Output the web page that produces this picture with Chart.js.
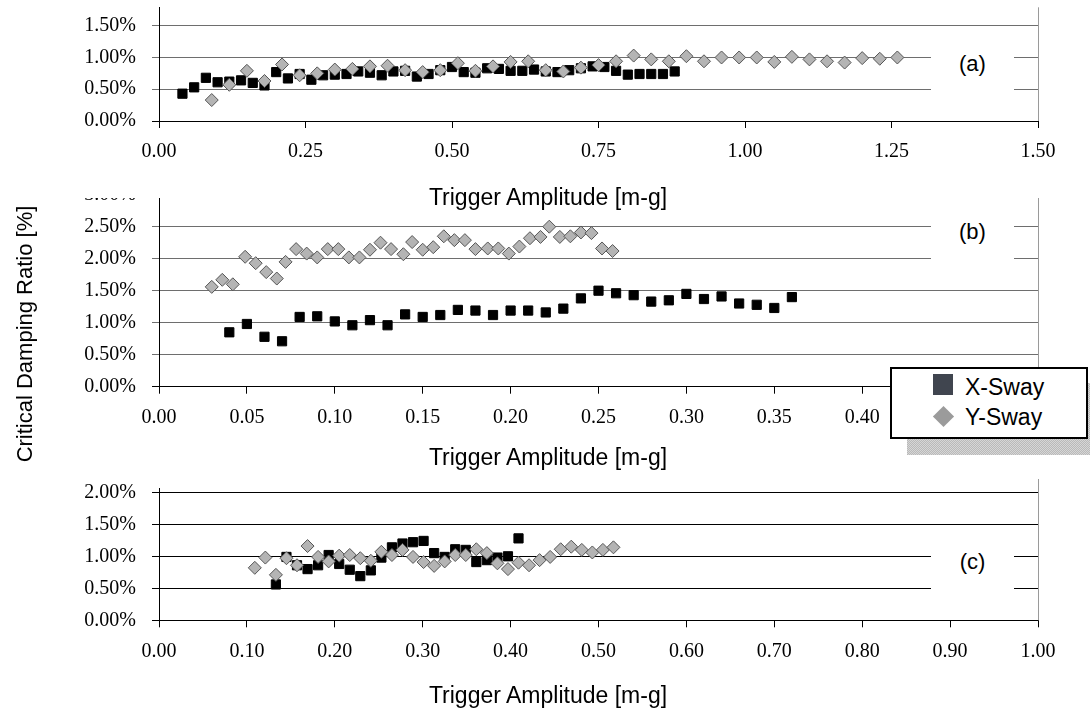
<!DOCTYPE html>
<html>
<head>
<meta charset="utf-8">
<script src="https://cdn.jsdelivr.net/npm/chart.js@4"></script>
<style>
  html, body { margin: 0; padding: 0; background: #fff; }
  #page { position: relative; width: 1090px; height: 709px; overflow: hidden; background: #fff;
          font-family: Arial, "Liberation Sans", sans-serif; color: #000; }
  .wrap { position: absolute; left: 0; width: 1090px; overflow: hidden; }
  #wrapA { top: 0; height: 198px; z-index: 3; background: #fff; }
  #wrapB { top: 180px; height: 290px; z-index: 1; }
  #wrapC { top: 470px; height: 239px; z-index: 1; }
  .xtitle { position: absolute; left: 348px; width: 400px; height: 28px; line-height: 28px;
            text-align: center; font-size: 23px; z-index: 5; white-space: nowrap; }
  .ytitle { position: absolute; left: -125px; top: 320px; width: 300px; height: 28px; line-height: 28px;
            text-align: center; font-size: 22px; transform: rotate(-90deg); z-index: 5; white-space: nowrap; }
  .tag { position: absolute; left: 931px; width: 83px; height: 60px; line-height: 60px;
         text-align: center; font-size: 22px; background: #fff; z-index: 5; }
  #shadow { position: absolute; left: 907px; top: 383px; width: 198px; height: 72px; z-index: 6;
            background-color: #c8c8c8;
            background-image: repeating-conic-gradient(#b9b9b9 0 25%, #d6d6d6 0 50%);
            background-size: 2px 2px; }
  #legend { position: absolute; left: 890px; top: 367px; width: 198px; height: 72px; z-index: 7;
            box-sizing: border-box; border: 2px solid #000; background: #fff; }
  .lg { position: absolute; z-index: 8; }
  .lgtext { position: absolute; left: 965px; height: 30px; line-height: 30px; font-size: 23px; z-index: 8; }
</style>
</head>
<body>
<div id="page">
  <div class="wrap" id="wrapA"><canvas id="chartA" width="1090" height="200"></canvas></div>
  <div class="wrap" id="wrapB"><canvas id="chartB" width="1090" height="290"></canvas></div>
  <div class="wrap" id="wrapC"><canvas id="chartC" width="1090" height="239"></canvas></div>

  <div class="xtitle" style="top:183px">Trigger Amplitude [m-g]</div>
  <div class="xtitle" style="top:443px">Trigger Amplitude [m-g]</div>
  <div class="xtitle" style="top:681px">Trigger Amplitude [m-g]</div>
  <div class="ytitle">Critical Damping Ratio [%]</div>

  <div class="tag" style="top:34px">(a)</div>
  <div class="tag" style="top:202px">(b)</div>
  <div class="tag" style="top:532px">(c)</div>

  <div id="shadow"></div>
  <div id="legend"></div>
  <div class="lg" style="left:933px; top:374px; width:20px; height:21px; background:#40454f;"></div>
  <div class="lgtext" style="top:372px">X-Sway</div>
  <div class="lg" style="left:936px; top:409px; width:15px; height:15px; background:#9b9b9b; transform:rotate(45deg);"></div>
  <div class="lgtext" style="top:402px">Y-Sway</div>
</div>

<script>
// panel (a)
var ampA_X = [0.04, 0.06, 0.08, 0.10, 0.12, 0.14, 0.16, 0.18, 0.20, 0.22, 0.24, 0.26, 0.28, 0.30, 0.32,
              0.34, 0.36, 0.38, 0.40, 0.42, 0.44, 0.46, 0.48, 0.50, 0.52, 0.54, 0.56, 0.58, 0.60, 0.62,
              0.64, 0.66, 0.68, 0.70, 0.72, 0.74, 0.76, 0.78, 0.80, 0.82, 0.84, 0.86, 0.88];
var dampA_X = [0.43, 0.53, 0.68, 0.61, 0.62, 0.64, 0.60, 0.56, 0.77, 0.67, 0.74, 0.65, 0.72, 0.73, 0.74,
               0.78, 0.76, 0.72, 0.78, 0.79, 0.70, 0.74, 0.80, 0.85, 0.77, 0.76, 0.83, 0.82, 0.79, 0.79,
               0.81, 0.78, 0.77, 0.80, 0.83, 0.86, 0.85, 0.79, 0.73, 0.74, 0.74, 0.74, 0.78];
var ampA_Y = [0.09, 0.12, 0.15, 0.18, 0.21, 0.24, 0.27, 0.30, 0.33, 0.36, 0.39, 0.42, 0.45, 0.48, 0.51,
              0.54, 0.57, 0.60, 0.63, 0.66, 0.69, 0.72, 0.75, 0.78, 0.81, 0.84, 0.87, 0.90, 0.93, 0.96,
              0.99, 1.02, 1.05, 1.08, 1.11, 1.14, 1.17, 1.20, 1.23, 1.26];
var dampA_Y = [0.33, 0.57, 0.79, 0.63, 0.89, 0.72, 0.75, 0.81, 0.82, 0.86, 0.87, 0.80, 0.77, 0.80, 0.91,
               0.79, 0.86, 0.93, 0.94, 0.80, 0.78, 0.84, 0.88, 0.94, 1.03, 0.97, 0.94, 1.02, 0.94, 1.00,
               1.00, 1.00, 0.93, 1.01, 0.97, 0.94, 0.92, 0.99, 0.98, 1.00];

// panel (b)
var ampB_X = [0.04, 0.05, 0.06, 0.07, 0.08, 0.09, 0.10, 0.11, 0.12, 0.13, 0.14, 0.15, 0.16, 0.17, 0.18,
              0.19, 0.20, 0.21, 0.22, 0.23, 0.24, 0.25, 0.26, 0.27, 0.28, 0.29, 0.30, 0.31, 0.32, 0.33,
              0.34, 0.35, 0.36];
var dampB_X = [0.85, 0.98, 0.78, 0.71, 1.09, 1.10, 1.02, 0.96, 1.04, 0.96, 1.13, 1.09, 1.12, 1.20, 1.19,
               1.12, 1.19, 1.19, 1.16, 1.22, 1.38, 1.50, 1.46, 1.43, 1.33, 1.35, 1.45, 1.37, 1.41, 1.30,
               1.28, 1.23, 1.40];
var ampB_Y = [0.030, 0.036, 0.042, 0.049, 0.055, 0.061, 0.067, 0.072, 0.078, 0.084, 0.090, 0.096, 0.102,
              0.108, 0.114, 0.120, 0.126, 0.132, 0.139, 0.144, 0.150, 0.156, 0.162, 0.168, 0.174, 0.180,
              0.187, 0.193, 0.199, 0.205, 0.211, 0.217, 0.222, 0.228, 0.234, 0.240, 0.246, 0.252, 0.258];
var dampB_Y = [1.56, 1.67, 1.60, 2.03, 1.93, 1.79, 1.69, 1.95, 2.15, 2.08, 2.02, 2.15, 2.15,
               2.02, 2.02, 2.14, 2.25, 2.15, 2.07, 2.26, 2.14, 2.18, 2.35, 2.29, 2.29, 2.15,
               2.16, 2.16, 2.08, 2.19, 2.32, 2.34, 2.50, 2.34, 2.35, 2.41, 2.40, 2.16, 2.12];

// panel (c)
var ampC_X = [0.133, 0.145, 0.157, 0.169, 0.181, 0.193, 0.205, 0.217, 0.229, 0.241, 0.253, 0.265,
              0.277, 0.289, 0.301, 0.313, 0.325, 0.337, 0.349, 0.361, 0.373, 0.385, 0.397, 0.409];
var dampC_X = [0.56, 0.99, 0.86, 0.80, 0.86, 1.02, 0.88, 0.79, 0.69, 0.78, 0.98, 1.14,
               1.20, 1.22, 1.24, 1.05, 0.99, 1.11, 1.10, 0.91, 0.94, 0.98, 1.00, 1.28];
var ampC_Y = [0.109, 0.121, 0.133, 0.145, 0.157, 0.169, 0.181, 0.193, 0.205, 0.217, 0.229, 0.241,
              0.253, 0.265, 0.277, 0.289, 0.301, 0.313, 0.325, 0.337, 0.349, 0.361, 0.373, 0.385,
              0.397, 0.409, 0.421, 0.433, 0.445, 0.457, 0.469, 0.481, 0.493, 0.505, 0.517];
var dampC_Y = [0.82, 0.98, 0.71, 0.97, 0.86, 1.16, 0.99, 0.92, 1.01, 1.02, 0.97, 0.93,
               1.07, 1.02, 1.10, 0.99, 0.91, 0.85, 0.92, 1.02, 1.02, 1.11, 1.05, 0.89,
               0.80, 0.90, 0.86, 0.94, 0.99, 1.11, 1.15, 1.10, 1.06, 1.10, 1.14];

var tickFont = { family: "'Times New Roman', 'Liberation Serif', serif", size: 20 };

function pts(xs, ys) {
  return xs.map(function(x, i) { return { x: x, y: ys[i] }; });
}

// thin gray frame line on the right side of each plot area
var rightEdge = {
  id: 'rightEdge',
  beforeDatasetsDraw: function(chart, args, opts) {
    var a = chart.chartArea, ctx = chart.ctx;
    var x = Math.round(a.right) + 0.5;
    ctx.save();
    ctx.strokeStyle = '#9a9a9a';
    ctx.lineWidth = 1;
    ctx.beginPath();
    ctx.moveTo(x, a.top - (opts.extra || 0));
    ctx.lineTo(x, a.bottom);
    ctx.stroke();
    ctx.restore();
  }
};

function panel(id, xSway, ySway, xMax, xStep, yMax, gridColor, padTop, xHeight, extra) {
  return new Chart(document.getElementById(id), {
    type: 'scatter',
    data: {
      datasets: [
        { label: 'X-Sway', data: xSway, order: 1, pointStyle: 'rect', pointRadius: 6.5,
          backgroundColor: '#000', borderColor: '#000', borderWidth: 1 },
        { label: 'Y-Sway', data: ySway, order: 0, pointStyle: 'rectRot', pointRadius: 6.5,
          backgroundColor: '#b4b4b4', borderColor: '#555', borderWidth: 1 }
      ]
    },
    options: {
      responsive: false,
      animation: false,
      events: [],
      layout: { autoPadding: false, padding: { top: padTop, right: 52, bottom: 0, left: 0 } },
      plugins: { legend: { display: false }, tooltip: { enabled: false }, rightEdge: { extra: extra } },
      scales: {
        x: {
          type: 'linear', min: 0, max: xMax,
          afterFit: function(s) { s.height = xHeight; s.paddingLeft = 0; s.paddingRight = 0; },
          ticks: { stepSize: xStep, autoSkip: false, maxRotation: 0, padding: 12, color: '#000',
                   font: tickFont, callback: function(v) { return v.toFixed(2); } },
          grid: { drawOnChartArea: false, tickLength: 7, tickColor: '#000' },
          border: { color: '#000' }
        },
        y: {
          min: 0, max: yMax,
          afterFit: function(s) { s.width = 159; s.paddingTop = 0; s.paddingBottom = 0; },
          ticks: { stepSize: 0.5, includeBounds: false, padding: 16, color: '#000', font: tickFont,
                   callback: function(v) { return v.toFixed(2) + '%'; } },
          grid: { color: function(c) { return c.tick && c.tick.value === 0 ? '#000' : gridColor; },
                  tickLength: 7 },
          border: { color: '#000' }
        }
      }
    },
    plugins: [rightEdge]
  });
}

panel('chartA', pts(ampA_X, dampA_X), pts(ampA_Y, dampA_Y), 1.5, 0.25, 1.79, '#6e6e6e', 7.3, 79, 0);
panel('chartB', pts(ampB_X, dampB_X), pts(ampB_Y, dampB_Y), 0.5, 0.05, 3.0, '#6e6e6e', 14.7, 83.3, 0);
panel('chartC', pts(ampC_X, dampC_X), pts(ampC_Y, dampC_Y), 1.0, 0.1, 2.067, '#000', 18, 88.7, 9);
</script>
</body>
</html>
